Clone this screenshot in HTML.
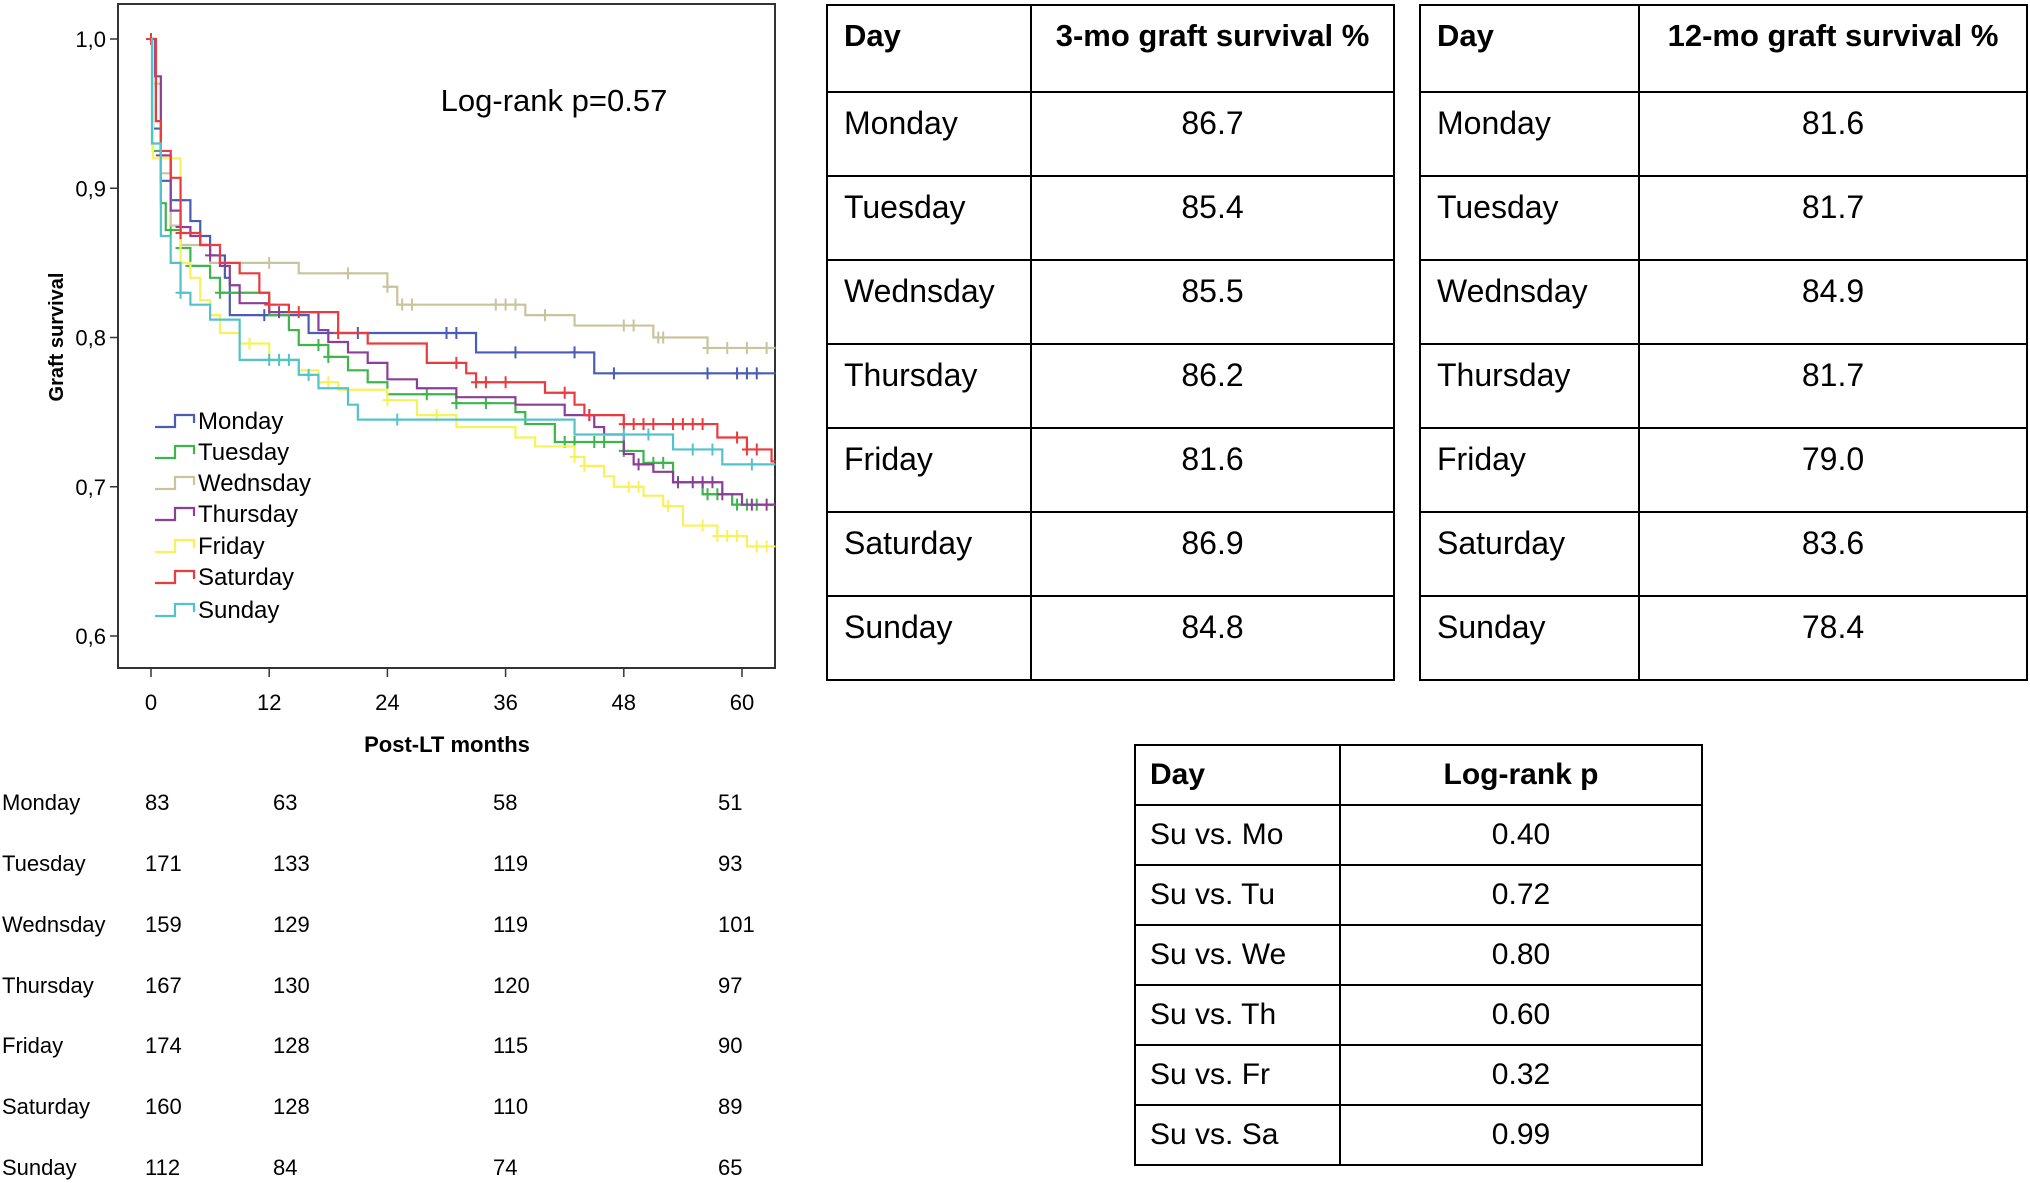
<!DOCTYPE html>
<html><head><meta charset="utf-8">
<style>
body{margin:0;width:2030px;height:1183px;background:#fff;position:relative;overflow:hidden;font-family:"Liberation Sans",sans-serif;color:#000}
.tbl{position:absolute;border-collapse:collapse;}
.tbl td{border:2px solid #000;padding:0;vertical-align:top;}
.risk{position:absolute;font-size:22px;}
</style></head><body>
<svg id="km" width="800" height="790" style="position:absolute;left:0;top:0" xmlns="http://www.w3.org/2000/svg">
<rect x="118" y="4" width="657" height="664" fill="none" stroke="#333" stroke-width="2"/>
<g id="axes"></g>
<g id="curves"></g>
<text x="554" y="111" font-size="31" text-anchor="middle" font-family="Liberation Sans, sans-serif">Log-rank p=0.57</text>
<text x="447" y="752" font-size="22" font-weight="bold" text-anchor="middle" font-family="Liberation Sans Narrow, Liberation Sans, sans-serif">Post-LT months</text>
<text x="0" y="0" font-size="20" font-weight="bold" text-anchor="middle" transform="translate(63,337) rotate(-90)" font-family="Liberation Sans, sans-serif">Graft survival</text>
<g id="legend"></g>
</svg>

<script>
const seriesNames=["Monday","Tuesday","Wednsday","Thursday","Friday","Saturday","Sunday"];
const colors=["#4a5cb4","#3db54a","#c9c49c","#8b3f98","#f7f25a","#ea3b3f","#53c3cb"];
const monT=[0,0.2,1,2,4,5,6,7.5,8,16,33,45];
const monV=[1,0.94,0.905,0.892,0.878,0.868,0.855,0.84,0.815,0.803,0.79,0.776];
const monC=[3,11.5,21,30,31,37,43,47,56.5,59.5,60.5,61.5];
const tueT=[0,0.2,1,1.5,3,4,6,7,12,14,15,18,20,22,24,31,37,38,41,48,50,53,56,59];
const tueV=[1,0.925,0.89,0.872,0.86,0.848,0.84,0.83,0.815,0.805,0.795,0.787,0.778,0.77,0.762,0.756,0.75,0.742,0.73,0.724,0.716,0.703,0.695,0.688];
const tueC=[2,3,4,7,17,18,28,31,34,42,43,45,46,48,51,52,53.5,56.5,57.5,59.5,60.5,61.5];
const wedT=[0,0.2,1,2,3,6,15,24,25,38,43,51,56.5];
const wedV=[1,0.97,0.91,0.875,0.862,0.85,0.843,0.834,0.822,0.815,0.808,0.8,0.793];
const wedC=[12,20,24,25.5,26.5,35,36,37,40,48,49,51.5,52,56.5,58.5,60.5,62.5];
const thuT=[0,0.3,1,2,3,4,5,6,7,8,9,12,17,18,20,22,24,27,31,37,42,45,46,48,49,51,53,58,60];
const thuV=[1,0.975,0.922,0.885,0.874,0.868,0.862,0.855,0.848,0.835,0.823,0.817,0.805,0.797,0.79,0.783,0.772,0.766,0.76,0.755,0.748,0.74,0.735,0.722,0.715,0.71,0.703,0.695,0.688];
const thuC=[1,3,6,13,44.5,49.5,53.5,55,56,57,58,61,62.5];
const friT=[0,0.2,3,4,5,6,7,9,12,15,17,19,24,27,31,37,39,43,44,46,47,50,52,54,57.5,60.5];
const friV=[1,0.92,0.85,0.84,0.825,0.815,0.803,0.796,0.785,0.778,0.77,0.765,0.758,0.748,0.74,0.733,0.727,0.72,0.714,0.707,0.7,0.694,0.687,0.674,0.667,0.66];
const friC=[3,10,18,24,29,43,44,48.5,49.5,52.5,56,57.5,58.5,59.5,61.5,62.5];
const satT=[0,0.5,1,2,3,5,7,9,11,12,14,19,22,28,32,33,40,43,44,48,57.5,60.5,63];
const satV=[1,0.945,0.925,0.907,0.87,0.862,0.85,0.843,0.83,0.822,0.817,0.803,0.796,0.783,0.776,0.77,0.763,0.755,0.748,0.742,0.733,0.725,0.717];
const satC=[0,3,12,15,19,31,33,34,36,42,44.5,48,49,50,51,53,54,55,56,59.5,60.5,61.5];
const sunT=[0,0.1,1,2,3,4,6,9,15,17,20,21,43,53,58];
const sunV=[1,0.93,0.868,0.85,0.83,0.822,0.812,0.785,0.775,0.766,0.755,0.745,0.735,0.725,0.715];
const sunC=[3,12,13,14,16,25,48,50.5,55,57,61];
const allT=[monT,tueT,wedT,thuT,friT,satT,sunT];
const allV=[monV,tueV,wedV,thuV,friV,satV,sunV];
const allC=[monC,tueC,wedC,thuC,friC,satC,sunC];
const xTicks=[0,12,24,36,48,60];
const yTicks=[1.0,0.9,0.8,0.7,0.6];
const yTickLabels=["1,0","0,9","0,8","0,7","0,6"];
const tMax=63.4;

const NS="http://www.w3.org/2000/svg";
function xs(t){return 151+t*(742-151)/60;}
function ys(v){return 39+(1-v)*(636-39)/0.4;}
function mk(tag,attrs,parent){const e=document.createElementNS(NS,tag);for(const k in attrs)e.setAttribute(k,attrs[k]);parent.appendChild(e);return e;}
const axes=document.getElementById('axes');
xTicks.forEach((t,i)=>{
  const l=mk('line',{x1:xs(t),x2:xs(t),y1:668,y2:677,stroke:'#333','stroke-width':1.5},axes);
  
  
  const tx=mk('text',{x:xs(t),y:710,'font-size':22,'text-anchor':'middle','font-family':'Liberation Sans Narrow, Liberation Sans, sans-serif'},axes);
  tx.textContent=String(t);
  
  
});
yTicks.forEach((v,i)=>{
  const l=mk('line',{x1:110,x2:118,y1:ys(v),y2:ys(v),stroke:'#333','stroke-width':1.5},axes);
  
  
  const tx=mk('text',{x:106,y:ys(v)+8,'font-size':22,'text-anchor':'end','font-family':'Liberation Sans Narrow, Liberation Sans, sans-serif'},axes);
  tx.textContent=yTickLabels[i];
  
  
});
function valAt(T,V,t){let v=V[0];for(let i=0;i<T.length;i++){if(T[i]<=t)v=V[i];}return v;}
const curves=document.getElementById('curves');
for(let s=0;s<7;s++){
  const T=allT[s],V=allV[s];
  let d='M'+xs(T[0])+','+ys(V[0]);
  for(let i=1;i<T.length;i++){d+=' H'+xs(T[i])+' V'+ys(V[i]);}
  d+=' H'+xs(tMax);
  const g=mk('g',{},curves);
  
  
  mk('path',{d:d,fill:'none',stroke:colors[s],'stroke-width':2.2},g);
  allC[s].forEach(c=>{
    const v=valAt(T,V,c);
    const m=mk('path',{d:'M'+(xs(c)-5)+','+ys(v)+' h10 M'+xs(c)+','+(ys(v)-6)+' v12',stroke:colors[s],'stroke-width':2,fill:'none'},g);
    
    
  });
}
const legend=document.getElementById('legend');
const legY=[421,452,483,514,546,577,610];
for(let s=0;s<7;s++){
  const y=legY[s];
  const g=mk('g',{},legend);
  
  
  mk('path',{d:'M155,'+(y+6)+' H175 V'+(y-6)+' H194 V'+(y+2),fill:'none',stroke:colors[s],'stroke-width':2.2},g);
  const tx=mk('text',{x:198,y:y+8,'font-size':24,'font-family':'Liberation Sans, sans-serif'},g);
  tx.textContent=seriesNames[s];
}
</script>

<div>
<div class="risk" style="left:2px;top:790px">Monday</div><div class="risk" style="left:145px;top:790px">83</div><div class="risk" style="left:273px;top:790px">63</div><div class="risk" style="left:493px;top:790px">58</div><div class="risk" style="left:718px;top:790px">51</div>
<div class="risk" style="left:2px;top:851px">Tuesday</div><div class="risk" style="left:145px;top:851px">171</div><div class="risk" style="left:273px;top:851px">133</div><div class="risk" style="left:493px;top:851px">119</div><div class="risk" style="left:718px;top:851px">93</div>
<div class="risk" style="left:2px;top:912px">Wednsday</div><div class="risk" style="left:145px;top:912px">159</div><div class="risk" style="left:273px;top:912px">129</div><div class="risk" style="left:493px;top:912px">119</div><div class="risk" style="left:718px;top:912px">101</div>
<div class="risk" style="left:2px;top:973px">Thursday</div><div class="risk" style="left:145px;top:973px">167</div><div class="risk" style="left:273px;top:973px">130</div><div class="risk" style="left:493px;top:973px">120</div><div class="risk" style="left:718px;top:973px">97</div>
<div class="risk" style="left:2px;top:1033px">Friday</div><div class="risk" style="left:145px;top:1033px">174</div><div class="risk" style="left:273px;top:1033px">128</div><div class="risk" style="left:493px;top:1033px">115</div><div class="risk" style="left:718px;top:1033px">90</div>
<div class="risk" style="left:2px;top:1094px">Saturday</div><div class="risk" style="left:145px;top:1094px">160</div><div class="risk" style="left:273px;top:1094px">128</div><div class="risk" style="left:493px;top:1094px">110</div><div class="risk" style="left:718px;top:1094px">89</div>
<div class="risk" style="left:2px;top:1155px">Sunday</div><div class="risk" style="left:145px;top:1155px">112</div><div class="risk" style="left:273px;top:1155px">84</div><div class="risk" style="left:493px;top:1155px">74</div><div class="risk" style="left:718px;top:1155px">65</div>
</div>

<style>
.t1 td{font-size:32px;height:70px;line-height:36px;}
.t1 td.l{padding:12px 0 0 16px;}
.t1 td.c{text-align:center;padding-top:12px;}
.t1 tr.h td{font-weight:bold;font-size:31px;height:73px;}
.t3 td{font-size:30px;height:58px;vertical-align:middle;}
.t3 td.l{padding-left:14px;}
.t3 td.c{text-align:center;}
.t3 tr.h td{font-weight:bold;}
</style>
<table class="tbl t1" style="left:826px;top:4px;width:569px">
<colgroup><col style="width:204px"><col></colgroup>
<tr class="h"><td class="l">Day</td><td class="c">3-mo graft survival %</td></tr>
<tr><td class="l">Monday</td><td class="c">86.7</td></tr>
<tr><td class="l">Tuesday</td><td class="c">85.4</td></tr>
<tr><td class="l">Wednsday</td><td class="c">85.5</td></tr>
<tr><td class="l">Thursday</td><td class="c">86.2</td></tr>
<tr><td class="l">Friday</td><td class="c">81.6</td></tr>
<tr><td class="l">Saturday</td><td class="c">86.9</td></tr>
<tr><td class="l">Sunday</td><td class="c">84.8</td></tr>
</table>
<table class="tbl t1" style="left:1419px;top:4px;width:609px">
<colgroup><col style="width:219px"><col></colgroup>
<tr class="h"><td class="l">Day</td><td class="c">12-mo graft survival %</td></tr>
<tr><td class="l">Monday</td><td class="c">81.6</td></tr>
<tr><td class="l">Tuesday</td><td class="c">81.7</td></tr>
<tr><td class="l">Wednsday</td><td class="c">84.9</td></tr>
<tr><td class="l">Thursday</td><td class="c">81.7</td></tr>
<tr><td class="l">Friday</td><td class="c">79.0</td></tr>
<tr><td class="l">Saturday</td><td class="c">83.6</td></tr>
<tr><td class="l">Sunday</td><td class="c">78.4</td></tr>
</table>
<table class="tbl t3" style="left:1134px;top:744px;width:569px">
<colgroup><col style="width:205px"><col></colgroup>
<tr class="h"><td class="l">Day</td><td class="c">Log-rank p</td></tr>
<tr><td class="l">Su vs. Mo</td><td class="c">0.40</td></tr>
<tr><td class="l">Su vs. Tu</td><td class="c">0.72</td></tr>
<tr><td class="l">Su vs. We</td><td class="c">0.80</td></tr>
<tr><td class="l">Su vs. Th</td><td class="c">0.60</td></tr>
<tr><td class="l">Su vs. Fr</td><td class="c">0.32</td></tr>
<tr><td class="l">Su vs. Sa</td><td class="c">0.99</td></tr>
</table>
</body></html>
